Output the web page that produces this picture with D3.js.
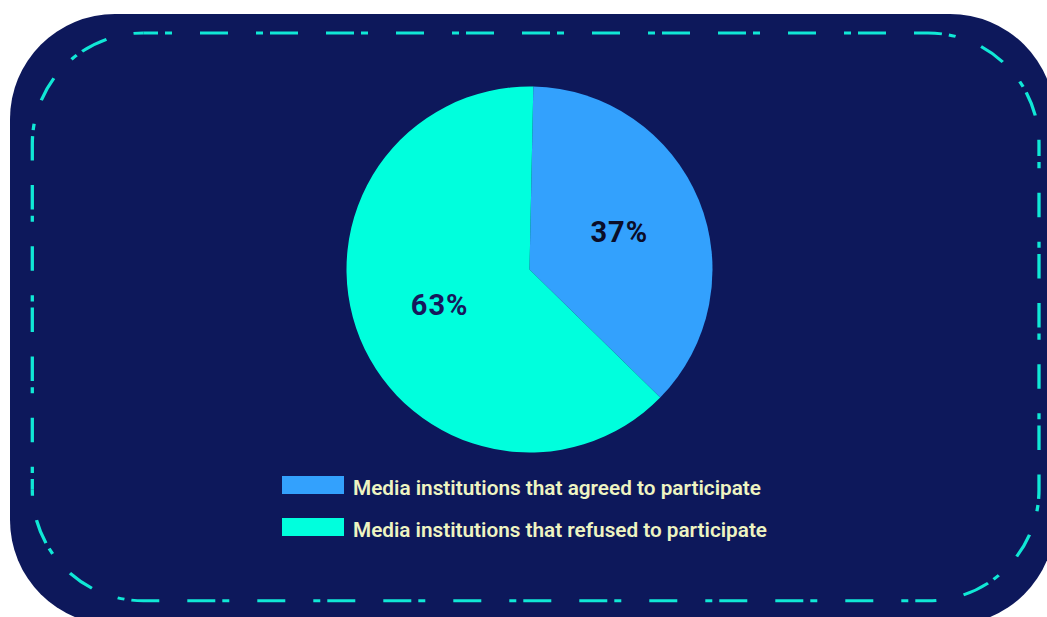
<!DOCTYPE html>
<html>
<head>
<meta charset="utf-8">
<script src="https://cdn.jsdelivr.net/npm/d3@7"></script>
<style>
  html, body { margin: 0; padding: 0; background: #ffffff; }
  svg { display: block; }
</style>
</head>
<body>
<svg id="chart" width="1047" height="617"></svg>
<script>
// Survey response shares
const categories = [
  "Media institutions that agreed to participate",
  "Media institutions that refused to participate"
];
const shares = [37, 63];
const sliceColors = ["#33a1fd", "#00ffdd"];
const labelColors = ["#0b0d28", "#17175c"];

const W = 1047, H = 617;
const svg = d3.select("#chart");

// Navy rounded panel
svg.append("rect")
  .attr("x", 10).attr("y", 14)
  .attr("width", 1045).attr("height", 611)
  .attr("rx", 105).attr("ry", 105)
  .attr("fill", "#0d185b");

// Dash-dot frame; vertical runs use a compressed dash rhythm
const k = 0.875;
const bx0 = 32.3, bx1 = 1039, by0 = 33, by1 = 600.8, cr = 111;
const Y0 = by0 / k, Y1 = by1 / k, rx = cr, ry = cr / k;
const frame = svg.append("g").attr("transform", `scale(1,${k})`);
const pieces = [
  { d: `M${bx0 + cr},${Y0} H${bx1 - cr} A${rx},${ry} 0 0 1 ${bx1},${Y0 + ry}`, off: 69.3 },
  { d: `M${bx1},${Y0 + ry} V${Y1 - ry} A${rx},${ry} 0 0 1 ${bx1 - cr},${Y1}`, off: 70.3 },
  { d: `M${bx1 - cr},${Y1} H${bx0 + cr} A${rx},${ry} 0 0 1 ${bx0},${Y1 - ry}`, off: 71.3 },
  { d: `M${bx0},${Y1 - ry} V${Y0 + ry} A${rx},${ry} 0 0 1 ${bx0 + cr},${Y0}`, off: 71.7 }
];
frame.selectAll("path.frame")
  .data(pieces)
  .join("path")
  .attr("class", "frame")
  .attr("d", p => p.d)
  .attr("fill", "none")
  .attr("stroke", "#10e8d6")
  .attr("stroke-width", 3.3)
  .attr("stroke-dasharray", "28 28 28 7 7")
  .attr("stroke-dashoffset", p => p.off);

// Pie
const cx = 529.5, cy = 269.5, R = 183;
const start = 1.2 * Math.PI / 180;
const pie = d3.pie().sort(null).value(d => d)
  .startAngle(start).endAngle(start + 2 * Math.PI);
const arcs = pie(shares);
const arc = d3.arc().innerRadius(0).outerRadius(R);
const labelArc = d3.arc().innerRadius(97).outerRadius(97);

const g = svg.append("g").attr("transform", `translate(${cx},${cy})`);
g.selectAll("path.slice")
  .data(arcs)
  .join("path")
  .attr("class", "slice")
  .attr("d", arc)
  .attr("fill", (d, i) => sliceColors[i]);

g.selectAll("text.pct")
  .data(arcs)
  .join("text")
  .attr("class", "pct")
  .attr("transform", d => `translate(${labelArc.centroid(d)})`)
  .attr("text-anchor", "middle")
  .attr("dy", "0.3em")
  .attr("font-family", "Roboto, 'DejaVu Sans', sans-serif")
  .attr("font-weight", 700)
  .attr("font-size", 29)
  .attr("letter-spacing", 1)
  .attr("fill", (d, i) => labelColors[i])
  .text(d => d.data + "%");

// Legend
const legend = svg.append("g").attr("transform", "translate(282,476)");
const rows = legend.selectAll("g.row")
  .data(categories)
  .join("g")
  .attr("class", "row")
  .attr("transform", (d, i) => `translate(0,${i * 42})`);
rows.append("rect")
  .attr("width", 62).attr("height", 18)
  .attr("fill", (d, i) => sliceColors[i]);
rows.append("text")
  .attr("x", 71).attr("y", 19.3)
  .attr("font-family", "Roboto, 'DejaVu Sans', sans-serif")
  .attr("font-weight", 600)
  .attr("font-size", 20)
  .attr("fill", "#eef4c2")
  .attr("textLength", (d, i) => i === 0 ? 408 : 414)
  .attr("lengthAdjust", "spacingAndGlyphs")
  .text(d => d);
</script>
</body>
</html>
